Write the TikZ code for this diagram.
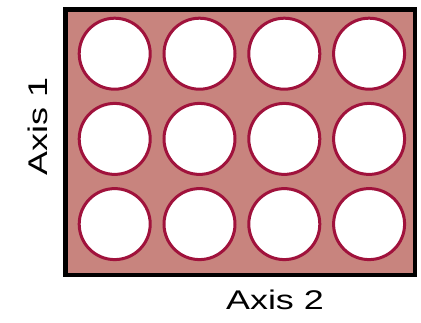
\documentclass[tikz,border=0pt]{standalone}
\usepackage{fontspec}
\setmainfont{Liberation Sans}
\definecolor{plate}{RGB}{200,132,126}
\definecolor{rim}{RGB}{160,18,60}
\newcommand{\widetext}[1]{\scalebox{1.33}[1]{#1}}
\begin{document}
\begin{tikzpicture}[x=1pt,y=1pt,
  well/.style={draw=rim,line width=3pt,fill=white},
  axislabel/.style={font=\fontsize{27}{29}\selectfont,inner sep=0pt}]
\useasboundingbox (0,0) rectangle (421,322);
\draw[line width=4.5pt,fill=plate] (65.5,312.5) rectangle (415,47);
\foreach \i in {0,1,2,3}{
  \foreach \j in {0,1,2}{
    \node[well,circle,minimum size=71pt,inner sep=0pt] (w\i\j) at ({114.7+84.8*\i},{322-53.7-85.2*\j}) {};
  }
}
\node[axislabel] (ax2) at (275,22) {\widetext{Axis 2}};
\node[axislabel,rotate=90] (ax1) at (38,195.5) {\widetext{Axis 1}};
\end{tikzpicture}
\end{document}
